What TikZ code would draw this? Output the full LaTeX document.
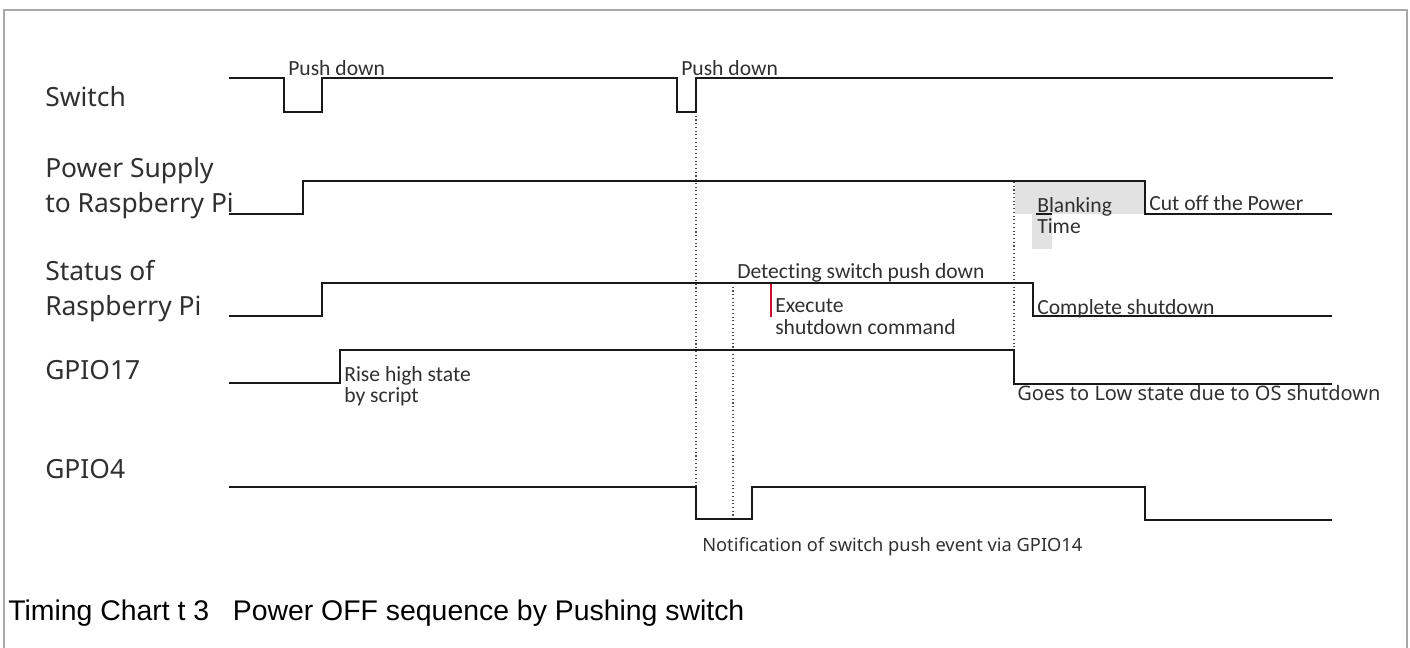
\documentclass[tikz,border=0pt]{standalone}
\usepackage{fontspec}
\setmainfont{Noto Sans}
\newfontfamily\calfont[Ligatures=NoCommon]{Carlito}
\newfontfamily\arialfont{Liberation Sans}
\definecolor{txt}{HTML}{303030}
\definecolor{framec}{HTML}{A8A8A8}
\definecolor{blankgray}{HTML}{E2E2E2}
\definecolor{redmark}{HTML}{C8102E}
\tikzset{
  sig/.style={line width=1.5pt, black!90},
  dotline/.style={black!70, dotted, line width=0.8pt},
  lbl/.style={anchor=base west, inner sep=0pt, text=txt, font=\fontsize{19.8}{24}\selectfont},
  small/.style={anchor=base west, inner sep=0pt, text=txt, font=\calfont\fontsize{16.2}{18}\selectfont},
  note/.style={anchor=base west, inner sep=0pt, text=txt, font=\fontsize{15}{17}\selectfont},
  capt/.style={anchor=base west, inner sep=0pt, text=black, font=\arialfont\fontsize{21.3}{25}\selectfont},
}
\begin{document}
\begin{tikzpicture}[x=0.75pt, y=-0.75pt]
\useasboundingbox (0,0) rectangle (1410,648);
% frame
\draw[framec, line width=1.5pt] (4,652) -- (4,10) -- (1407,10) -- (1407,652);
% shaded blanking time
\fill[blankgray] (1015,182) rectangle (1145,214);
\fill[blankgray] (1032,214) rectangle (1052,249);
% dotted guides
\draw[dotline] (696,112) -- (696,519);
\draw[dotline] (733,283) -- (733,519);
\draw[dotline] (1014,182) -- (1014,350);
% signals
\draw[sig] (229,78) -- (284,78) -- (284,112) -- (322,112) -- (322,78) -- (677,78) -- (677,112) -- (696,112) -- (696,78) -- (1333,78);
\draw[sig] (229,214) -- (303,214) -- (303,181) -- (1145,181) -- (1145,214) -- (1332,214);
\draw[sig] (1036,214) -- (1052,214);
\draw[sig] (229,316) -- (322,316) -- (322,283) -- (1033,283) -- (1033,316) -- (1332,316);
\draw[sig] (229,383) -- (340,383) -- (340,350) -- (1014,350) -- (1014,384) -- (1332,384);
\draw[sig] (229,487) -- (696,487) -- (696,519) -- (752,519) -- (752,487) -- (1145,487) -- (1145,520) -- (1332,520);
\draw[redmark, line width=1pt] (771,284) -- (771,317);
% row labels
\node[lbl] (sw) at (45,107) {Switch};
\node[lbl] (ps1) at (45,178) {Power Supply};
\node[lbl] (ps2) at (45,213) {to Raspberry Pi};
\node[lbl] (st1) at (45,281) {Status of};
\node[lbl] (st2) at (45,316) {Raspberry Pi};
\node[lbl] (g17) at (45,380) {GPIO17};
\node[lbl] (g4) at (45,478) {GPIO4};
% small annotations
\node[small] (pd1) at (288,76) {Push down};
\node[small] (pd2) at (681,76) {Push down};
\node[small] (bl1) at (1037,213) {Blanking};
\node[small] (bl2) at (1037,234) {Time};
\node[small] (cut) at (1149,211) {Cut off the Power};
\node[small] (det) at (737,279) {Detecting switch push down};
\node[small] (ex1) at (775,313) {Execute};
\node[small] (ex2) at (775,335) {shutdown command};
\node[small] (cs) at (1037,315) {Complete shutdown};
\node[small] (ri1) at (344,382) {Rise high state};
\node[small] (ri2) at (344,403) {by script};
\node[note] (goes) at (1017,401) {Goes to Low state due to OS shutdown};
\node[note, font=\fontsize{13.7}{16}\selectfont] (notif) at (702,551) {Notification of switch push event via GPIO14};
% caption
\node[capt] (cap) at (8,620) {Timing Chart t 3\ \ \ Power OFF sequence by Pushing switch};
\end{tikzpicture}
\end{document}
